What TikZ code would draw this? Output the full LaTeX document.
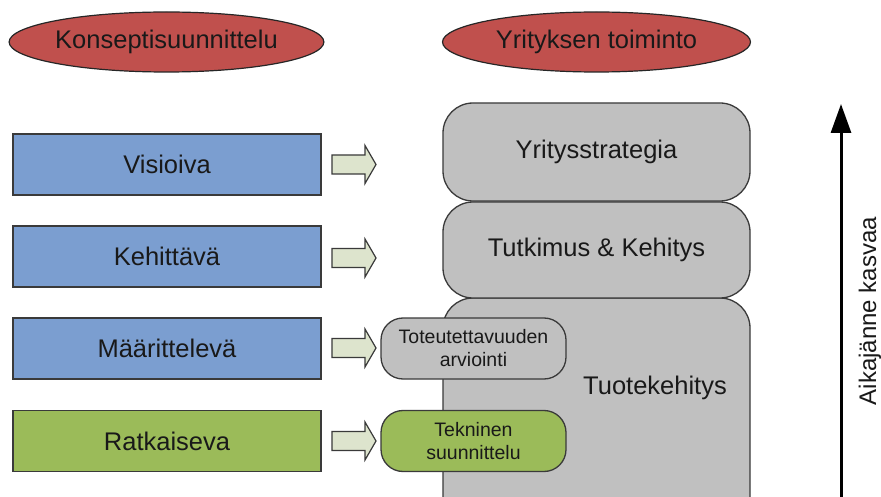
\documentclass[tikz,border=0pt]{standalone}
\usepackage{fontspec}
\setmainfont{Liberation Sans}
\usetikzlibrary{shapes.geometric,arrows.meta}
\definecolor{ellred}{HTML}{C0504D}
\definecolor{boxblue}{HTML}{7B9ED0}
\definecolor{boxgreen}{HTML}{9BBB59}
\definecolor{boxgray}{HTML}{C0C0C0}
\definecolor{arrfill}{HTML}{DDE4CD}
\definecolor{edge}{HTML}{3A3A3A}
\tikzset{
  bigtext/.style={font=\fontsize{25.5}{28}\selectfont, text=black!90},
  smalltext/.style={font=\fontsize{19.5}{23}\selectfont, text=black!90, align=center},
  headell/.style={ellipse, draw=black!85, line width=1.2pt, fill=ellred, minimum width=308pt, minimum height=60pt, inner sep=0pt, bigtext},
  levelbox/.style={rectangle, draw=edge, line width=1.3pt, minimum width=308pt, minimum height=61pt, inner sep=0pt, bigtext},
  actbox/.style={rectangle, rounded corners=30pt, draw=edge, line width=1.3pt, fill=boxgray, minimum width=307pt, inner sep=0pt, bigtext},
  subbox/.style={rectangle, rounded corners=22pt, draw=edge, line width=1.3pt, minimum width=185pt, minimum height=61pt, inner sep=0pt, smalltext},
  blockarrow/.style={draw=edge, line width=1.2pt, fill=arrfill, line join=miter}
}
\newcommand{\blockarr}[1]{%
  \draw[blockarrow] (332,#1-9.5) -- (365,#1-9.5) -- (365,#1-19) -- (376,#1) -- (365,#1+19) -- (365,#1+9.5) -- (332,#1+9.5) -- cycle;}
\begin{document}
\begin{tikzpicture}[x=1pt,y=-1pt]
\useasboundingbox (0,0) rectangle (881,497);
\clip (0,0) rectangle (881,497);
\fill[white] (0,0) rectangle (881,497);

% headers
\node[headell] (hk) at (166.5,42) {Konseptisuunnittelu};
\node[headell] (hy) at (596.5,42) {Yrityksen toiminto};

% left level boxes
\node[levelbox, fill=boxblue] (l1) at (167,164.5) {Visioiva};
\node[levelbox, fill=boxblue] (l2) at (167,256.5) {Kehittävä};
\node[levelbox, fill=boxblue] (l3) at (167,348.5) {Määrittelevä};
\node[levelbox, fill=boxgreen] (l4) at (167,441) {Ratkaiseva};

% block arrows
\blockarr{164.5}
\blockarr{258}
\blockarr{348}
\blockarr{441}

% company activity boxes
\node[actbox, minimum height=262pt] (a3) at (596.5,429) {};
\node[bigtext] (a3t) at (655,388) {Tuotekehitys};
\node[actbox, minimum height=96pt] (a2) at (596.5,250) {Tutkimus \& Kehitys};
\node[actbox, minimum height=98pt] (a1) at (596.5,152) {Yritysstrategia};

% sub boxes
\node[subbox, fill=boxgray] (s1) at (473.5,348.5) {Toteutettavuuden\\arviointi};
\node[subbox, fill=boxgreen] (s2) at (473.5,441) {Tekninen\\suunnittelu};

% time arrow
\coordinate (tb) at (841,500);
\coordinate (tt) at (841,104);
\draw[line width=3pt, -{Triangle[length=29pt,width=20pt]}] (tb) -- (tt);
\node[rotate=90, font=\fontsize{24}{28}\selectfont, text=black!90] (tl) at (870,311) {Aikajänne kasvaa};
\end{tikzpicture}
\end{document}
